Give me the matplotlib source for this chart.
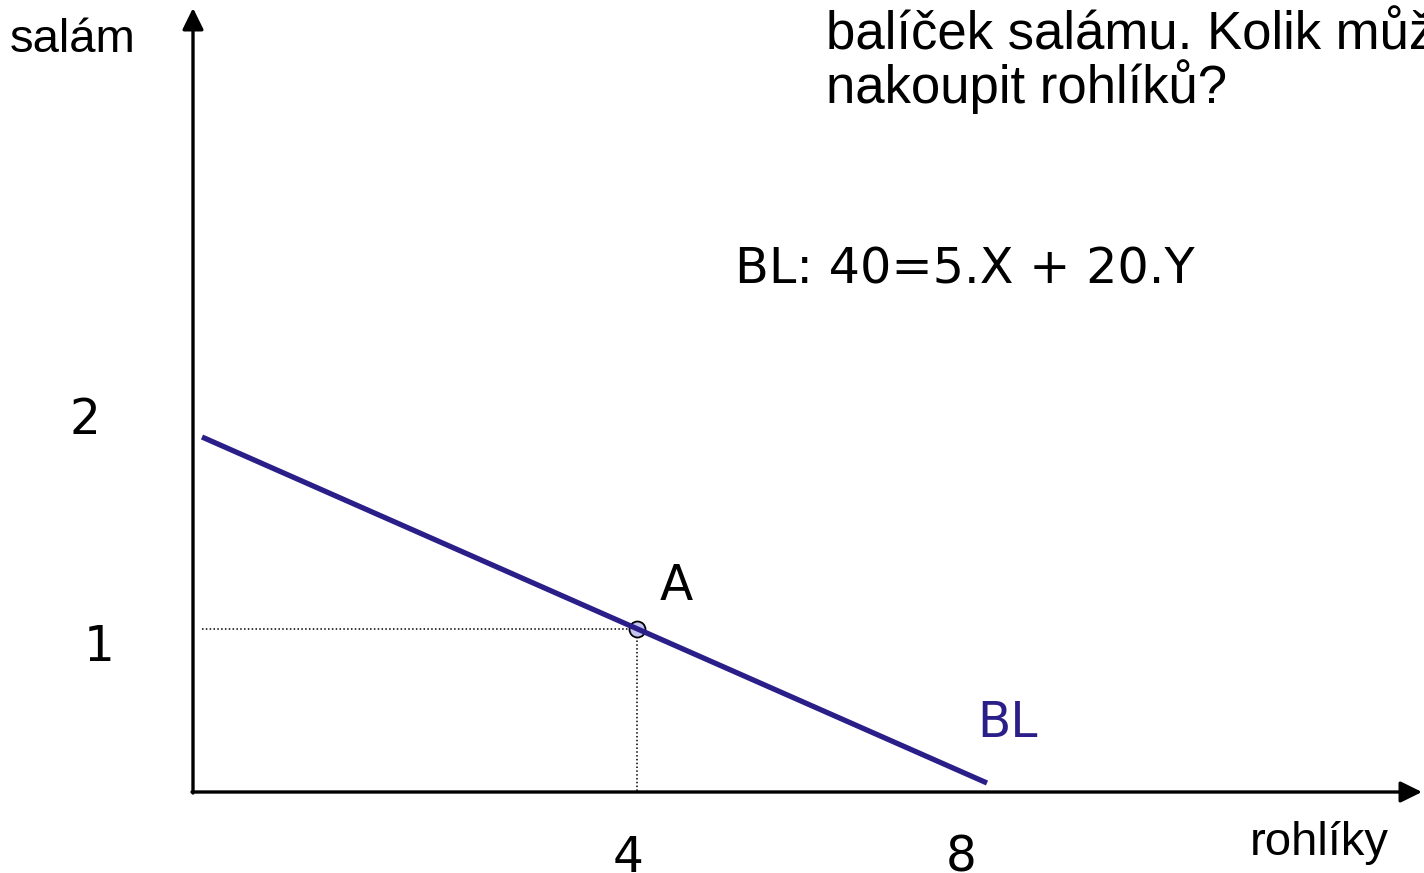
import numpy as np
import matplotlib
matplotlib.use("Agg")
import matplotlib.pyplot as plt

W, H, DPI = 1424, 873, 100

# Budget line BL: 40 = 5.X + 20.Y  -> intercepts X = 8, Y = 2
bl_x = [0, 8]
bl_y = [2, 0]
point_a = (4, 1)
xtick_vals = [4, 8]
ytick_vals = [2, 1]
line_color = "#2A1E88"

# Hand-drawn diagram: piecewise-linear placement of the data range on the canvas
x_src, x_dst = [0, 4, 8], [202, 637, 987]
y_src, y_dst = [0, 1, 2], [90, 244, 436]


def piecewise(src, dst):
    src = np.asarray(src, float)
    dst = np.asarray(dst, float)

    def f(v):
        v = np.asarray(v, float)
        out = np.interp(v, src, dst)
        lo_slope = (dst[1] - dst[0]) / (src[1] - src[0])
        hi_slope = (dst[-1] - dst[-2]) / (src[-1] - src[-2])
        out = np.where(v < src[0], dst[0] + (v - src[0]) * lo_slope, out)
        out = np.where(v > src[-1], dst[-1] + (v - src[-1]) * hi_slope, out)
        return out
    return f


fx, fx_inv = piecewise(x_src, x_dst), piecewise(x_dst, x_src)
fy, fy_inv = piecewise(y_src, y_dst), piecewise(y_dst, y_src)

fig = plt.figure(figsize=(W / DPI, H / DPI), dpi=DPI)
ax = fig.add_axes([0, 0, 1, 1])
ax.set_xscale("function", functions=(fx, fx_inv))
ax.set_yscale("function", functions=(fy, fy_inv))
ax.set_xlim(float(fx_inv(0)), float(fx_inv(W)))
ax.set_ylim(float(fy_inv(0)), float(fy_inv(H)))
ax.axis("off")

# coordinate axes with arrow heads
ax_x0, ax_y0 = 193, H - 792
arrow = dict(arrowstyle="-|>,head_length=0.65,head_width=0.32", lw=2.4,
             color="black", shrinkA=0, shrinkB=0, mutation_scale=20)
ax.annotate("", xy=(W - 2, ax_y0), xytext=(ax_x0 - 1, ax_y0),
            xycoords="figure pixels", textcoords="figure pixels", arrowprops=arrow)
ax.annotate("", xy=(ax_x0, H - 8), xytext=(ax_x0, ax_y0 - 1),
            xycoords="figure pixels", textcoords="figure pixels", arrowprops=arrow)

axis_y_data = float(fy_inv(ax_y0))

# guide lines to point A
ax.plot([0, point_a[0]], [point_a[1], point_a[1]], color="black", lw=1.1,
        linestyle=(0, (1, 1.5)))
ax.plot([point_a[0], point_a[0]], [point_a[1], axis_y_data], color="black", lw=1.1,
        linestyle=(0, (1, 1.5)))

# budget line
ax.plot(bl_x, bl_y, color=line_color, lw=3.8, solid_capstyle="butt", zorder=3)
ax.plot([point_a[0]], [point_a[1]], marker="o", ms=11.5, mfc="#C4C4F2",
        mec="black", mew=1.3, zorder=2)

verd = "DejaVu Sans"
arial = "Liberation Sans"
lab_size = 35

# tick labels
x_offsets = [-9, -26]
for v, dx in zip(xtick_vals, x_offsets):
    ax.annotate(str(v), xy=(v, axis_y_data), xytext=(dx, -80),
                textcoords="offset pixels", ha="center", va="baseline",
                fontsize=lab_size, family=verd)
y_offsets = {2: (-117, 3), 1: (-103, -32)}
for v in ytick_vals:
    dx, dy = y_offsets[v]
    ax.annotate(str(v), xy=(0, v), xytext=(dx, dy),
                textcoords="offset pixels", ha="center", va="baseline",
                fontsize=lab_size, family=verd)

# labels
ax.annotate("A", xy=point_a, xytext=(39, 29), textcoords="offset pixels",
            ha="center", va="baseline", fontsize=lab_size, family=verd)
ax.annotate("BL", xy=(bl_x[1], bl_y[1]), xytext=(21, 46), textcoords="offset pixels",
            ha="center", va="baseline", fontsize=lab_size, family=verd,
            color=line_color)

fig.text(10 / W, 1 - 52 / H, "salám", fontsize=34, family=arial, ha="left",
         va="baseline")
fig.text(1250 / W, 1 - 855 / H, "rohlíky", fontsize=34, family=arial, ha="left",
         va="baseline")
fig.text(735 / W, 1 - 284 / H, "BL: 40=5.X + 20.Y", fontsize=35.5, family=verd,
         ha="left", va="baseline")
fig.text(826 / W, 1 - 50 / H, "balíček salámu. Kolik může", fontsize=38,
         family=arial, ha="left", va="baseline")
fig.text(826 / W, 1 - 103 / H, "nakoupit rohlíků?", fontsize=38,
         family=arial, ha="left", va="baseline")

fig.savefig("out.png", dpi=DPI)
